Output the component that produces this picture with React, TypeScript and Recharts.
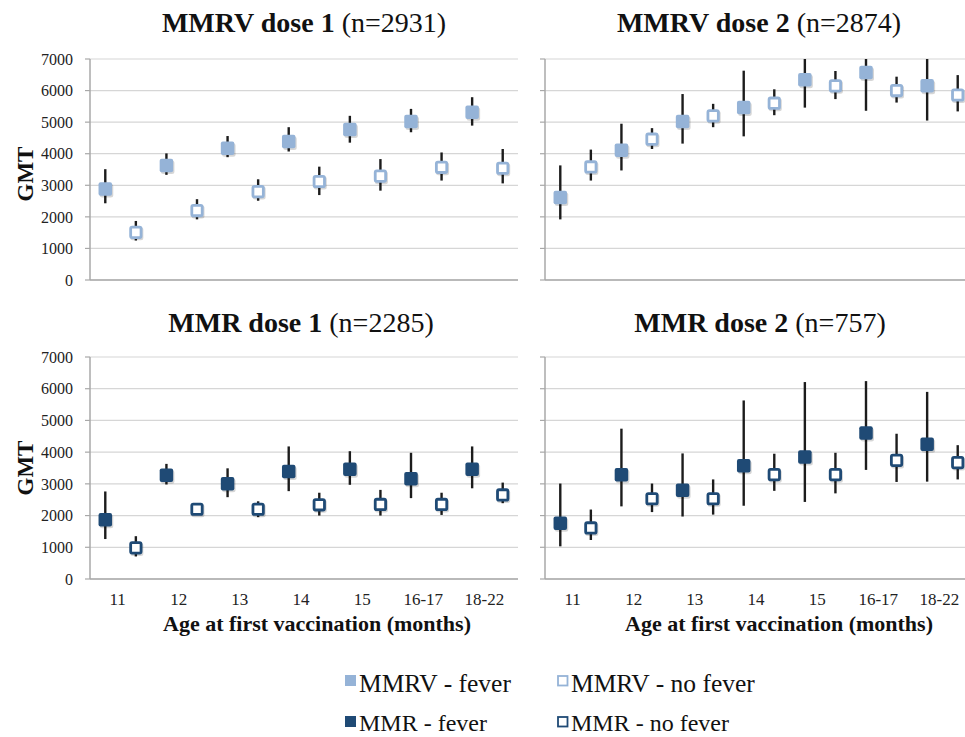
import React from 'react';
import { ScatterChart, Scatter, XAxis, YAxis, CartesianGrid, ErrorBar } from 'recharts';

const categories = ['11', '12', '13', '14', '15', '16-17', '18-22'];
const yTicks = [0, 1000, 2000, 3000, 4000, 5000, 6000, 7000];
const xTicks = [1, 3, 5, 7, 9, 11, 13];

// MMRV dose 1
const mmrv1Fever = [2880, 3630, 4170, 4390, 4770, 5020, 5310];
const mmrv1FeverLow = [2430, 3330, 3890, 4070, 4350, 4680, 4890];
const mmrv1FeverHigh = [3510, 4010, 4560, 4840, 5200, 5420, 5790];
const mmrv1NoFever = [1510, 2200, 2800, 3120, 3290, 3570, 3540];
const mmrv1NoFeverLow = [1250, 1920, 2510, 2690, 2830, 3150, 3060];
const mmrv1NoFeverHigh = [1870, 2560, 3190, 3590, 3830, 4040, 4150];

// MMRV dose 2
const mmrv2Fever = [2610, 4110, 5020, 5460, 6340, 6570, 6150];
const mmrv2FeverLow = [1920, 3470, 4320, 4550, 5460, 5360, 5050];
const mmrv2FeverHigh = [3630, 4950, 5890, 6630, 7000, 7000, 7000];
const mmrv2NoFever = [3580, 4460, 5200, 5600, 6150, 6000, 5860];
const mmrv2NoFeverLow = [3150, 4150, 4840, 5220, 5730, 5620, 5340];
const mmrv2NoFeverHigh = [4130, 4810, 5580, 6040, 6620, 6440, 6490];

// MMR dose 1
const mmr1Fever = [1870, 3270, 3000, 3390, 3460, 3160, 3460];
const mmr1FeverLow = [1260, 2980, 2580, 2770, 2970, 2550, 2860];
const mmr1FeverHigh = [2760, 3630, 3490, 4180, 4030, 3980, 4180];
const mmr1NoFever = [980, 2200, 2200, 2340, 2350, 2350, 2650];
const mmr1NoFeverLow = [710, 2070, 1950, 2000, 2000, 2020, 2390];
const mmr1NoFeverHigh = [1350, 2350, 2450, 2720, 2810, 2720, 3040];

// MMR dose 2
const mmr2Fever = [1760, 3290, 2800, 3570, 3850, 4600, 4250];
const mmr2FeverLow = [1030, 2290, 1970, 2310, 2430, 3440, 3070];
const mmr2FeverHigh = [3010, 4740, 3960, 5630, 6210, 6240, 5900];
const mmr2NoFever = [1610, 2530, 2530, 3290, 3290, 3740, 3670];
const mmr2NoFeverLow = [1230, 2110, 2030, 2780, 2700, 3060, 3140];
const mmr2NoFeverHigh = [2190, 3010, 3140, 3950, 3980, 4580, 4220];

const FONT = '"Liberation Serif", "Times New Roman", Times, serif';
const LIGHT = '#95b3d7';
const DARK = '#1f4a75';
const AXIS = '#a8a8a8';
const GRID = '#d6d6d6';

type Row = { x: number; y: number; err: [number, number] };

function buildRows(values: number[], low: number[], high: number[], offset: number): Row[] {
  return values.map((v, i) => ({ x: 2 * i + offset, y: v, err: [v - low[i], high[i] - v] as [number, number] }));
}

const makeFilled = (color: string) => (props: any) => {
  const { cx, cy } = props;
  if (cx == null || cy == null) return <g />;
  return (
    <g>
      <rect x={cx - 5.5} y={cy - 5} width={13.5} height={13.5} rx={2.5} fill="#000" opacity={0.16} />
      <rect x={cx - 6.75} y={cy - 6.75} width={13.5} height={13.5} rx={2} fill={color} />
    </g>
  );
};

const makeHollow = (color: string) => (props: any) => {
  const { cx, cy } = props;
  if (cx == null || cy == null) return <g />;
  return (
    <g>
      <rect x={cx - 5.5} y={cy - 5} width={13} height={13} rx={2.5} fill="#000" opacity={0.16} />
      <rect x={cx - 5.2} y={cy - 5.2} width={10.4} height={10.4} rx={1.5} fill="#fff" stroke={color} strokeWidth={2.8} />
    </g>
  );
};

type PanelProps = {
  left: number;
  top: number;
  height: number;
  marginTop: number;
  bottomAxisHeight: number;
  showYLabels: boolean;
  showXLabels: boolean;
  fever: Row[];
  noFever: Row[];
  color: string;
};

function Panel(p: PanelProps) {
  return (
    <div style={{ position: 'absolute', left: p.left, top: p.top }}>
      <ScatterChart width={540} height={p.height} margin={{ top: p.marginTop, right: 22, bottom: 0, left: 0 }}>
        <CartesianGrid horizontal={true} vertical={false} stroke={GRID} strokeWidth={1.2} />
        <XAxis
          type="number"
          dataKey="x"
          domain={[0, 14]}
          ticks={xTicks}
          interval={0}
          height={p.bottomAxisHeight}
          axisLine={{ stroke: AXIS, strokeWidth: 1.5 }}
          tickLine={false}
          tickMargin={8}
          tick={p.showXLabels ? { fontSize: 17, fill: '#222', fontFamily: FONT, dx: -3 } : false}
          tickFormatter={(v: number) => categories[Math.round((v - 1) / 2)] ?? ''}
        />
        <YAxis
          type="number"
          dataKey="y"
          domain={[0, 7000]}
          ticks={yTicks}
          allowDataOverflow={true}
          width={90}
          tickSize={5}
          tickMargin={12}
          axisLine={{ stroke: AXIS, strokeWidth: 1.5 }}
          tickLine={{ stroke: AXIS, strokeWidth: 1.2 }}
          tick={{ fontSize: 16, fill: '#222', fontFamily: FONT }}
          tickFormatter={(v: number) => (p.showYLabels ? String(v) : '')}
        />
        <Scatter data={p.fever} isAnimationActive={false} shape={makeFilled(p.color)}>
          <ErrorBar dataKey="err" direction="y" width={0} stroke="#1c1c1c" strokeWidth={2.4} isAnimationActive={false} />
        </Scatter>
        <Scatter data={p.noFever} isAnimationActive={false} shape={makeHollow(p.color)}>
          <ErrorBar dataKey="err" direction="y" width={0} stroke="#1c1c1c" strokeWidth={2.4} isAnimationActive={false} />
        </Scatter>
      </ScatterChart>
    </div>
  );
}

function Title({ x, y, bold, rest }: { x: number; y: number; bold: string; rest: string }) {
  return (
    <text x={x} y={y} textAnchor="middle" fontFamily={FONT} fontSize={28} fill="#111" style={{ whiteSpace: 'pre' }}>
      <tspan fontWeight="bold">{bold}</tspan>
      <tspan>{' ' + rest}</tspan>
    </text>
  );
}

export default function App() {
  return (
    <div style={{ position: 'absolute', left: 0, top: 0, width: 965, height: 737, overflow: 'hidden', background: '#fff' }}>
      <Panel
        left={0}
        top={0}
        height={300}
        marginTop={59}
        bottomAxisHeight={20}
        showYLabels={true}
        showXLabels={false}
        fever={buildRows(mmrv1Fever, mmrv1FeverLow, mmrv1FeverHigh, 0.5)}
        noFever={buildRows(mmrv1NoFever, mmrv1NoFeverLow, mmrv1NoFeverHigh, 1.5)}
        color={LIGHT}
      />
      <Panel
        left={455}
        top={0}
        height={300}
        marginTop={59}
        bottomAxisHeight={20}
        showYLabels={false}
        showXLabels={false}
        fever={buildRows(mmrv2Fever, mmrv2FeverLow, mmrv2FeverHigh, 0.5)}
        noFever={buildRows(mmrv2NoFever, mmrv2NoFeverLow, mmrv2NoFeverHigh, 1.5)}
        color={LIGHT}
      />
      <Panel
        left={0}
        top={300}
        height={350}
        marginTop={57}
        bottomAxisHeight={71}
        showYLabels={true}
        showXLabels={true}
        fever={buildRows(mmr1Fever, mmr1FeverLow, mmr1FeverHigh, 0.5)}
        noFever={buildRows(mmr1NoFever, mmr1NoFeverLow, mmr1NoFeverHigh, 1.5)}
        color={DARK}
      />
      <Panel
        left={455}
        top={300}
        height={350}
        marginTop={57}
        bottomAxisHeight={71}
        showYLabels={false}
        showXLabels={true}
        fever={buildRows(mmr2Fever, mmr2FeverLow, mmr2FeverHigh, 0.5)}
        noFever={buildRows(mmr2NoFever, mmr2NoFeverLow, mmr2NoFeverHigh, 1.5)}
        color={DARK}
      />
      <svg width={965} height={737} style={{ position: 'absolute', left: 0, top: 0, pointerEvents: 'none' }}>
        <Title x={304} y={32} bold="MMRV dose 1" rest="(n=2931)" />
        <Title x={759} y={32} bold="MMRV dose 2" rest="(n=2874)" />
        <Title x={301} y={332} bold="MMR dose 1" rest="(n=2285)" />
        <Title x={760} y={332} bold="MMR dose 2" rest="(n=757)" />

        <text x={33} y={174} transform="rotate(-90 33 174)" textAnchor="middle" fontFamily={FONT} fontWeight="bold" fontSize={23} fill="#111">GMT</text>
        <text x={33} y={468} transform="rotate(-90 33 468)" textAnchor="middle" fontFamily={FONT} fontWeight="bold" fontSize={23} fill="#111">GMT</text>

        <text x={317} y={631} textAnchor="middle" fontFamily={FONT} fontWeight="bold" fontSize={22} fill="#111">Age at first vaccination (months)</text>
        <text x={779} y={631} textAnchor="middle" fontFamily={FONT} fontWeight="bold" fontSize={22} fill="#111">Age at first vaccination (months)</text>

        <rect x={345} y={675} width={11} height={11} fill={LIGHT} />
        <text x={359} y={692} fontFamily={FONT} fontSize={25.5} fill="#111">MMRV - fever</text>
        <rect x={558} y={676} width={9.5} height={9.5} fill="#fff" stroke={LIGHT} strokeWidth={1.8} />
        <text x={571} y={692} fontFamily={FONT} fontSize={25.5} fill="#111">MMRV - no fever</text>

        <rect x={345} y={716} width={11} height={11} fill={DARK} />
        <text x={359} y={731} fontFamily={FONT} fontSize={24} fill="#111">MMR - fever</text>
        <rect x={558} y={717} width={9.5} height={9.5} fill="#fff" stroke={DARK} strokeWidth={1.8} />
        <text x={571} y={731} fontFamily={FONT} fontSize={24} fill="#111">MMR - no fever</text>
      </svg>
    </div>
  );
}
